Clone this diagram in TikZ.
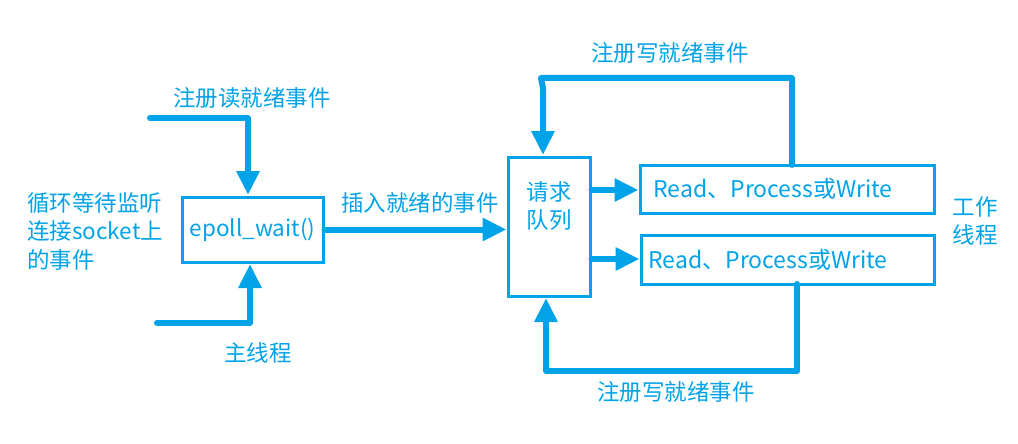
\documentclass[tikz,border=0pt]{standalone}
\usepackage{fontspec}
\setmainfont{Noto Sans CJK SC}
\usetikzlibrary{arrows.meta}
\definecolor{flowcolor}{RGB}{0, 162, 232}

\begin{document}
\begin{tikzpicture}[x=1pt,y=-1pt]
	\tikzstyle{flow} = [-{Triangle[width=22pt,length=24pt]}, flowcolor, line width=6pt, line cap=round, line join=round]
	\tikzstyle{box} = [draw=flowcolor, line width=3pt, text=flowcolor, inner sep=0pt]
	\tikzstyle{label} = [text=flowcolor, inner sep=0pt, font=\fontsize{22.5}{28.5}\selectfont]
	\tikzstyle{boxtext} = [font=\fontsize{23}{29}\selectfont, align=left]

	\useasboundingbox (0,0) rectangle (1018,444);

	% boxes
	\node[box, minimum width=141pt, minimum height=65pt, font=\fontsize{22.5}{29}\selectfont] (epoll) at (252.5,229.5) {epoll\_wait()};
	\node[box, minimum width=82pt, minimum height=139pt] (queue) at (549,226.5) {};
	\node[label, align=center, anchor=north] (queuetext) at (549,181) {请求\\队列};
	\node[box, boxtext, minimum width=294pt, minimum height=48pt, text width=279pt] (worker1) at (787,189) {\hspace*{6pt}Read、Process或Write};
	\node[box, boxtext, minimum width=293pt, minimum height=49pt, text width=284pt] (worker2) at (787.5,259.5) {\hspace*{3pt}Read、Process或Write};

	% labels
	\node[label, align=left, anchor=west] (loop) at (27,231) {循环等待监听\\连接socket上\\的事件};
	\node[label] (readreg) at (252,98) {注册读就绪事件};
	\node[label] (mainthread) at (258,353) {主线程};
	\node[label] (insert) at (420,203) {插入就绪的事件};
	\node[label] (writetop) at (670,53) {注册写就绪事件};
	\node[label] (writebottom) at (676,392) {注册写就绪事件};
	\node[label, align=center] (workthread) at (975,221) {工作\\线程};

	% main thread
	\coordinate (readin) at (150,118);
	\coordinate (mainin) at (157,323);
	\draw[flow] (readin) -- (248,118) -- (248,195);
	\draw[flow] (mainin) -- (250,323) -- (250,264);
	\draw[flow] (epoll.east) -- (epoll.east -| queue.west);

	% request queue to workers
	\draw[flow] (queue.east |- 0,190) -- (worker1.west |- 0,190);
	\draw[flow] (queue.east |- 0,259) -- (worker2.west |- 0,259);

	% write registration loops
	\coordinate (topleft) at (541,78);
	\coordinate (bottomleft) at (546,371);
	\draw[flow] (792,165) -- (792,78) -- (topleft) -- (543,88) -- (543,155);
	\draw[flow] (797,284) -- (797,371) -- (bottomleft) -- (546,298);
\end{tikzpicture}
\end{document}
